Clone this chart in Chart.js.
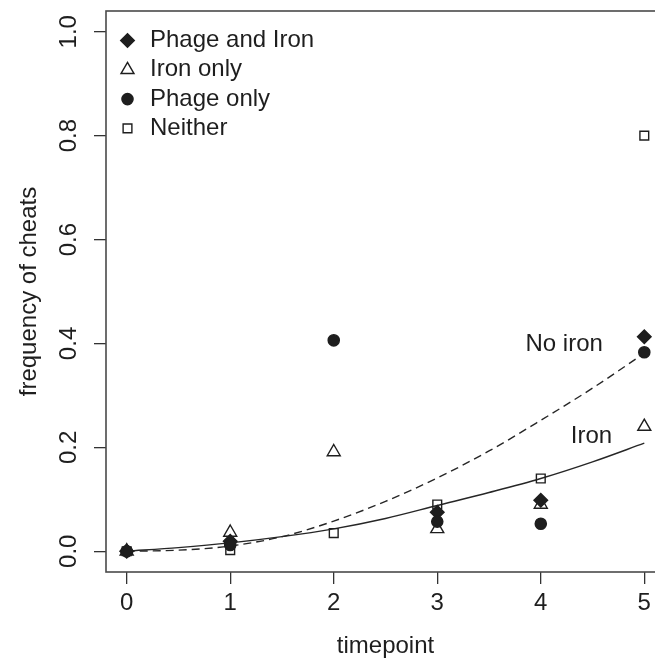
<!DOCTYPE html>
<html>
<head>
<meta charset="utf-8">
<script src="https://cdn.jsdelivr.net/npm/chart.js@4"></script>
<style>
  html, body { margin: 0; padding: 0; background: #fff; overflow: hidden; }
  #cheats { display: block; }
</style>
</head>
<body>
<canvas id="cheats" width="680" height="663"></canvas>
<script>
// timepoints and tick values
const TIMEPOINTS = [0, 1, 2, 3, 4, 5];
const X_TICKS = [0, 1, 2, 3, 4, 5];
const Y_TICKS = [0, 0.2, 0.4, 0.6, 0.8, 1.0];

// observed frequency of cheats per treatment (null = not shown)
const PHAGE_AND_IRON = [0, 0.019, null, 0.075, 0.098, 0.413];
const IRON_ONLY = [0, 0.036, 0.191, 0.043, 0.090, 0.240];
const PHAGE_ONLY = [0, 0.012, 0.406, 0.057, 0.053, 0.383];
const NEITHER = [0, 0.002, 0.035, 0.090, 0.140, 0.800];

// fitted curves at half-timepoint steps
const CURVE_T = [0, 0.5, 1, 1.5, 2, 2.5, 3, 3.5, 4, 4.5, 5];
const IRON_FIT = [0, 0.007, 0.016, 0.028, 0.043, 0.063, 0.088, 0.113, 0.140, 0.172, 0.208];
const NO_IRON_FIT = [0, 0.002, 0.010, 0.028, 0.058, 0.096, 0.141, 0.193, 0.252, 0.314, 0.381];

const FONT = "'Liberation Sans', Arial, sans-serif";
const INK = "#1e1e1e";

const toPoints = (xs, ys) =>
  xs.map((x, i) => ({ x, y: ys[i] })).filter((p) => p.y !== null);

const MARKERS = [
  { label: "Phage and Iron", data: PHAGE_AND_IRON, style: "rectRot", radius: 6.8, fill: INK },
  { label: "Iron only", data: IRON_ONLY, style: "triangle", radius: 7.5, fill: "rgba(0,0,0,0)" },
  { label: "Phage only", data: PHAGE_ONLY, style: "circle", radius: 5.6, fill: INK },
  { label: "Neither", data: NEITHER, style: "rect", radius: 6.2, fill: "rgba(0,0,0,0)" },
];

const pointSets = MARKERS.map((m, i) => ({
  label: m.label,
  data: toPoints(TIMEPOINTS, m.data),
  pointStyle: m.style,
  pointRadius: m.radius,
  pointHoverRadius: m.radius,
  pointBorderWidth: 1.4,
  pointBorderColor: INK,
  pointBackgroundColor: m.fill,
  showLine: false,
  order: 4 - i,
}));

const curveSets = [
  { label: "Iron", data: toPoints(CURVE_T, IRON_FIT), dash: [] },
  { label: "No iron", data: toPoints(CURVE_T, NO_IRON_FIT), dash: [8, 5] },
].map((c) => ({
  label: c.label,
  data: c.data,
  showLine: true,
  borderColor: "#262626",
  borderWidth: 1.4,
  borderDash: c.dash,
  pointRadius: 0,
  cubicInterpolationMode: "monotone",
  fill: false,
  order: 10,
}));

// frame (right side lies past the visible edge), rotated y labels, legend, curve labels
const decorations = {
  id: "decorations",
  afterDraw(chart) {
    const { ctx, chartArea: a, scales } = chart;
    const xs = scales.x, ys = scales.y;
    ctx.save();

    ctx.strokeStyle = "#4a4a4a";
    ctx.lineWidth = 1.6;
    ctx.strokeRect(a.left, a.top, a.right - a.left, a.bottom - a.top);

    ctx.fillStyle = INK;
    ctx.font = "24px " + FONT;
    ctx.textAlign = "center";
    ctx.textBaseline = "middle";
    Y_TICKS.forEach((v) => {
      ctx.save();
      ctx.translate(69, ys.getPixelForValue(v));
      ctx.rotate(-Math.PI / 2);
      ctx.fillText(v.toFixed(1), 0, 0);
      ctx.restore();
    });

    // legend
    MARKERS.forEach((m, i) => {
      const y = 40.5 + i * 29.3;
      ctx.strokeStyle = INK;
      ctx.fillStyle = m.fill;
      ctx.lineWidth = 1.4;
      Chart.helpers.drawPoint(ctx, { pointStyle: m.style, radius: m.radius, borderWidth: 1.4 }, 127.5, y);
      ctx.fillStyle = INK;
      ctx.textAlign = "left";
      ctx.fillText(m.label, 150, y);
    });

    ctx.textAlign = "right";
    ctx.fillText("No iron", xs.getPixelForValue(4.6), ys.getPixelForValue(0.398));
    ctx.fillText("Iron", xs.getPixelForValue(4.69), ys.getPixelForValue(0.221));
    ctx.restore();
  },
};

const axisGrid = () => ({
  drawOnChartArea: false,
  drawTicks: true,
  tickLength: 12,
  tickColor: "#333",
  lineWidth: 1.3,
});

new Chart(document.getElementById("cheats"), {
  type: "scatter",
  data: { datasets: [...curveSets, ...pointSets] },
  options: {
    responsive: false,
    animation: false,
    layout: { padding: { top: 11, right: 15, left: 0, bottom: 0 } },
    plugins: {
      legend: { display: false },
      tooltip: { enabled: false },
    },
    scales: {
      x: {
        type: "linear",
        min: -0.2,
        max: 5.2,
        afterBuildTicks: (s) => { s.ticks = X_TICKS.map((v) => ({ value: v })); },
        afterFit: (s) => {
          s.height = 91;
          s.paddingLeft = 0;
          s.paddingRight = 0;
        },
        border: { display: false },
        grid: axisGrid(),
        ticks: {
          color: INK,
          padding: 5,
          maxRotation: 0,
          font: { family: FONT, size: 24 },
          callback: (v) => String(v),
        },
        title: {
          display: true,
          text: "timepoint",
          color: INK,
          font: { family: FONT, size: 24 },
          padding: { top: 0, bottom: 2 },
        },
      },
      y: {
        type: "linear",
        min: -0.04,
        max: 1.04,
        afterBuildTicks: (s) => { s.ticks = Y_TICKS.map((v) => ({ value: v })); },
        afterFit: (s) => {
          s.width = 106;
          s.paddingTop = 0;
          s.paddingBottom = 0;
        },
        border: { display: false },
        grid: axisGrid(),
        ticks: { display: false },
        title: {
          display: true,
          text: "frequency of cheats",
          color: INK,
          font: { family: FONT, size: 24 },
          padding: { top: 15, bottom: 0 },
        },
      },
    },
  },
  plugins: [decorations],
});
</script>
</body>
</html>
